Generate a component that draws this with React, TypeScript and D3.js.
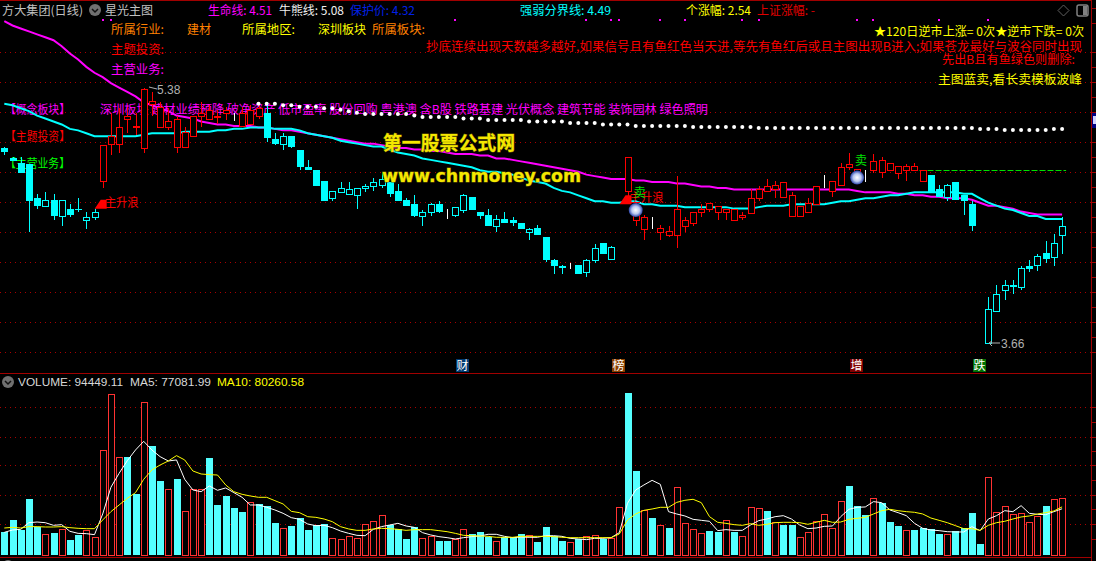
import React, { useEffect, useRef } from 'react';
import * as d3 from 'd3';

// candle prices
const highs = [
  4.99, 4.92, 4.92, 4.87, 4.67, 4.68, 4.67, 4.63, 4.60, 4.64,
  4.55, 4.57, 5.00, 5.22, 5.25, 5.26, 5.22, 5.39, 5.36, 5.29,
  5.25, 5.20, 5.12, 5.20, 5.29, 5.27, 5.24, 5.26, 5.22, 5.26,
  5.27, 5.29, 5.29, 5.08, 5.08, 5.06, 4.97, 4.90, 4.83, 4.76,
  4.69, 4.75, 4.75, 4.71, 4.74, 4.78, 4.82, 4.75, 4.74, 4.64,
  4.66, 4.56, 4.61, 4.62, 4.57, 4.58, 4.67, 4.65, 4.55, 4.57,
  4.53, 4.55, 4.51, 4.47, 4.44, 4.46, 4.38, 4.23, 4.19, 4.20,
  4.19, 4.23, 4.33, 4.34, 4.32, 4.75, 4.92, 4.61, 4.53, 4.51,
  4.46, 4.45, 4.79, 4.51, 4.55, 4.60, 4.61, 4.59, 4.57, 4.57,
  4.55, 4.70, 4.72, 4.77, 4.76, 4.75, 4.68, 4.59, 4.64, 4.72,
  4.80, 4.76, 4.88, 4.95, 4.84, 4.83, 4.94, 4.92, 4.88, 4.86,
  4.87, 4.88, 4.83, 4.80, 4.73, 4.74, 4.75, 4.66, 4.62, 4.01,
  3.97, 4.05, 4.09, 4.09, 4.18, 4.22, 4.26, 4.35, 4.40, 4.51,
];
const bodyHighs = [
  4.98, 4.91, 4.88, 4.87, 4.64, 4.63, 4.63, 4.63, 4.57, 4.57,
  4.51, 4.55, 5.00, 5.06, 5.12, 5.20, 5.13, 5.38, 5.30, 5.26,
  5.16, 5.18, 5.09, 5.20, 5.22, 5.24, 5.20, 5.24, 5.20, 5.22,
  5.24, 5.25, 5.22, 5.04, 5.06, 5.06, 4.97, 4.85, 4.83, 4.76,
  4.69, 4.71, 4.70, 4.71, 4.72, 4.75, 4.77, 4.75, 4.69, 4.63,
  4.60, 4.55, 4.60, 4.60, 4.53, 4.58, 4.66, 4.65, 4.55, 4.53,
  4.50, 4.50, 4.49, 4.47, 4.43, 4.44, 4.38, 4.22, 4.18, 4.18,
  4.19, 4.22, 4.30, 4.34, 4.31, 4.75, 4.92, 4.57, 4.51, 4.47,
  4.44, 4.42, 4.57, 4.49, 4.55, 4.57, 4.61, 4.59, 4.57, 4.57,
  4.53, 4.64, 4.70, 4.72, 4.73, 4.75, 4.66, 4.59, 4.61, 4.72,
  4.71, 4.76, 4.85, 4.87, 4.84, 4.80, 4.89, 4.90, 4.88, 4.86,
  4.86, 4.86, 4.83, 4.80, 4.70, 4.73, 4.75, 4.66, 4.60, 4.01,
  3.89, 3.99, 4.05, 4.05, 4.17, 4.18, 4.25, 4.27, 4.34, 4.45,
];
const bodyLows = [
  4.95, 4.89, 4.81, 4.62, 4.59, 4.59, 4.52, 4.52, 4.53, 4.56,
  4.49, 4.51, 4.76, 5.01, 5.01, 5.18, 5.12, 4.98, 5.28, 5.12,
  5.12, 4.99, 4.99, 5.06, 5.20, 5.18, 5.19, 5.22, 5.20, 5.13,
  5.14, 5.20, 5.05, 5.01, 5.01, 4.99, 4.85, 4.83, 4.72, 4.62,
  4.64, 4.68, 4.67, 4.66, 4.71, 4.72, 4.73, 4.67, 4.62, 4.59,
  4.52, 4.52, 4.55, 4.55, 4.53, 4.53, 4.56, 4.56, 4.52, 4.45,
  4.45, 4.47, 4.47, 4.43, 4.41, 4.39, 4.22, 4.18, 4.17, 4.18,
  4.13, 4.14, 4.22, 4.26, 4.23, 4.75, 4.69, 4.49, 4.43, 4.47,
  4.41, 4.39, 4.39, 4.45, 4.47, 4.55, 4.57, 4.55, 4.55, 4.49,
  4.51, 4.54, 4.64, 4.69, 4.70, 4.65, 4.52, 4.52, 4.55, 4.60,
  4.71, 4.69, 4.73, 4.85, 4.81, 4.80, 4.83, 4.82, 4.83, 4.81,
  4.83, 4.83, 4.76, 4.68, 4.65, 4.65, 4.63, 4.62, 4.45, 4.01,
  3.66, 3.88, 4.02, 4.04, 4.04, 4.16, 4.19, 4.23, 4.24, 4.39,
];
const lows = [
  4.93, 4.89, 4.81, 4.41, 4.57, 4.59, 4.49, 4.45, 4.51, 4.55,
  4.43, 4.49, 4.71, 4.93, 4.95, 5.08, 5.07, 4.95, 5.20, 5.12,
  5.10, 4.95, 4.99, 5.06, 5.12, 5.17, 5.14, 5.17, 5.16, 5.13,
  5.14, 5.18, 5.02, 5.00, 4.97, 4.98, 4.83, 4.83, 4.72, 4.62,
  4.62, 4.68, 4.67, 4.57, 4.68, 4.69, 4.71, 4.65, 4.62, 4.59,
  4.51, 4.45, 4.52, 4.54, 4.50, 4.51, 4.54, 4.56, 4.50, 4.45,
  4.41, 4.47, 4.45, 4.43, 4.36, 4.39, 4.21, 4.13, 4.13, 4.16,
  4.13, 4.11, 4.20, 4.26, 4.23, 4.75, 4.62, 4.45, 4.36, 4.43,
  4.36, 4.38, 4.30, 4.41, 4.45, 4.51, 4.55, 4.49, 4.49, 4.49,
  4.49, 4.54, 4.62, 4.69, 4.64, 4.65, 4.52, 4.51, 4.55, 4.60,
  4.71, 4.65, 4.72, 4.83, 4.78, 4.75, 4.81, 4.78, 4.83, 4.77,
  4.76, 4.83, 4.76, 4.68, 4.65, 4.62, 4.63, 4.53, 4.42, 4.01,
  3.66, 3.88, 3.95, 3.99, 4.02, 4.14, 4.15, 4.20, 4.18, 4.26,
];
// c = cyan filled, h = cyan hollow, r = red hollow, w = white doji
const candleKinds =
  'ccccchchcc' + 'hhrrrrrrrr' + 'rrrrrrrrwr' + 'rrcchccccc' + 'hhhhhhhccc' +
  'chhcwhhccc' + 'hccchccccw' + 'chhchwrrrw' + 'rrrrrrrrrr' + 'rrrrrrrrrr' +
  'wrrrrwrrrr' + 'rrrcchcccw' + 'hhhchchchh';

const lifeLine = [
  5.84, 5.81, 5.79, 5.77, 5.75, 5.73, 5.71, 5.67, 5.62, 5.58,
  5.53, 5.49, 5.46, 5.42, 5.39, 5.36, 5.33, 5.29, 5.27, 5.25,
  5.23, 5.20, 5.19, 5.18, 5.16, 5.15, 5.14, 5.14, 5.13, 5.13,
  5.13, 5.12, 5.12, 5.11, 5.10, 5.10, 5.09, 5.08, 5.07, 5.06,
  5.05, 5.04, 5.03, 5.02, 5.01, 5.01, 5.00, 4.99, 4.98, 4.98,
  4.97, 4.97, 4.96, 4.96, 4.95, 4.94, 4.94, 4.94, 4.93, 4.93,
  4.91, 4.91, 4.90, 4.89, 4.88, 4.87, 4.86, 4.85, 4.84, 4.83,
  4.82, 4.80, 4.79, 4.78, 4.77, 4.77, 4.77, 4.76, 4.76, 4.75,
  4.75, 4.75, 4.74, 4.74, 4.73, 4.72, 4.72, 4.71, 4.71, 4.70,
  4.70, 4.70, 4.70, 4.70, 4.70, 4.70, 4.70, 4.70, 4.70, 4.70,
  4.70, 4.70, 4.70, 4.70, 4.69, 4.68, 4.68, 4.68, 4.68, 4.67,
  4.67, 4.66, 4.66, 4.65, 4.65, 4.64, 4.64, 4.64, 4.63, 4.61,
  4.59, 4.59, 4.58, 4.57, 4.55, 4.54, 4.53, 4.53, 4.53, 4.53,
];
const strengthLine = [
  5.28, 5.27, 5.25, 5.23, 5.20, 5.18, 5.16, 5.14, 5.11, 5.10,
  5.08, 5.06, 5.06, 5.06, 5.06, 5.06, 5.06, 5.07, 5.08, 5.08,
  5.08, 5.08, 5.09, 5.09, 5.09, 5.09, 5.10, 5.10, 5.11, 5.11,
  5.12, 5.12, 5.12, 5.11, 5.11, 5.11, 5.10, 5.08, 5.07, 5.06,
  5.05, 5.03, 5.02, 5.01, 5.00, 4.99, 4.99, 4.97, 4.95, 4.94,
  4.93, 4.91, 4.90, 4.89, 4.88, 4.87, 4.86, 4.85, 4.83, 4.82,
  4.82, 4.81, 4.80, 4.78, 4.76, 4.75, 4.74, 4.71, 4.69, 4.68,
  4.66, 4.64, 4.62, 4.62, 4.61, 4.61, 4.62, 4.62, 4.60, 4.60,
  4.59, 4.59, 4.59, 4.58, 4.58, 4.58, 4.58, 4.58, 4.58, 4.57,
  4.57, 4.57, 4.58, 4.59, 4.59, 4.59, 4.60, 4.60, 4.60, 4.60,
  4.60, 4.61, 4.62, 4.62, 4.63, 4.64, 4.64, 4.65, 4.66, 4.66,
  4.67, 4.68, 4.68, 4.68, 4.68, 4.68, 4.68, 4.67, 4.67, 4.64,
  4.61, 4.59, 4.57, 4.56, 4.54, 4.52, 4.52, 4.50, 4.50, 4.50,
];
// white dots start at bar 31
const bullBearStart = 31;
const bullBearDots = [
  5.28, 5.28, 5.28, 5.27, 5.27, 5.26, 5.26, 5.26, 5.25,
  5.25, 5.24, 5.23, 5.22, 5.21, 5.21, 5.21, 5.21, 5.21, 5.21,
  5.20, 5.19, 5.19, 5.19, 5.19, 5.19, 5.18, 5.18, 5.18, 5.17,
  5.17, 5.17, 5.17, 5.17, 5.16, 5.16, 5.16, 5.16, 5.16, 5.15,
  5.15, 5.15, 5.15, 5.14, 5.14, 5.14, 5.14, 5.13, 5.13, 5.13,
  5.13, 5.13, 5.13, 5.13, 5.123, 5.123, 5.123, 5.123, 5.123, 5.123, 5.123, 5.123,
  5.116, 5.116, 5.116, 5.116, 5.116, 5.116, 5.116, 5.116, 5.116, 5.116,
  5.116, 5.116, 5.116, 5.116, 5.116, 5.116, 5.116, 5.116, 5.116, 5.116,
  5.116, 5.116, 5.116, 5.116, 5.116, 5.116, 5.116,
  5.109, 5.109, 5.109, 5.102, 5.102, 5.102, 5.102, 5.102, 5.102, 5.109, 5.109,
];

const volumes = [
  37800, 58400, 42300, 93400, 46100, 34500, 36700, 42800, 25000, 33400,
  41100, 29500, 174500, 267900, 162900, 163500, 101700, 254600, 181800, 123400,
  109500, 126800, 72800, 109500, 109500, 161800, 83400, 98400, 78400, 71700,
  87800, 84500, 81700, 53400, 44500, 48400, 61700, 41700, 49500, 51200,
  27800, 26100, 31100, 27800, 51200, 56200, 66200, 50000, 42800, 26700,
  46100, 27800, 31100, 23400, 23400, 26100, 42800, 35000, 38400, 30000,
  22800, 30000, 30000, 35000, 32800, 21700, 46700, 31700, 23400, 21100,
  26700, 31100, 32800, 26700, 27800, 79500, 270200, 140100, 74500, 61700,
  49500, 45000, 112900, 52800, 42800, 36100, 40000, 38400, 57800, 37800,
  31100, 79500, 77800, 73400, 54500, 49500, 49500, 29500, 37800, 56200,
  67800, 44500, 89500, 115100, 81700, 66700, 94500, 86700, 55000, 48400,
  41100, 41700, 45000, 42800, 35000, 34500, 39500, 44500, 70100, 18300,
  129500, 71200, 81200, 67800, 69500, 54500, 65100, 81700, 92900, 94449,
];
// f = cyan filled, r = red hollow
const volumeKinds =
  'fffffrfrff' + 'rrrrrffrff' + 'rfrrrfffff' + 'rfffrfffff' + 'rrrrrrrfff' +
  'frrffrrfff' + 'rfffrffffr' + 'frrfrrffrf' + 'rfrrrrffrf' + 'rrrfrffrrr' +
  'rrrfffrfff' + 'rffffrffff' + 'rrrrrrrfrr';
const ma5 = [
  37800, 41700, 42800, 53900, 55000, 53900, 49500, 50600, 39500, 36100,
  35600, 33900, 68400, 112900, 136200, 157300, 175100, 189600, 175100, 164000,
  156800, 158500, 126200, 108400, 105600, 115100, 107900, 111800, 104000, 96200,
  83400, 83400, 79500, 75100, 69500, 62300, 59500, 51700, 48900, 49500,
  45600, 40000, 36100, 32800, 32200, 42800, 47300, 50000, 52800, 48400,
  46100, 37300, 33400, 30600, 28900, 26700, 28900, 30600, 31700, 34500,
  34500, 31100, 28900, 30000, 29500, 29500, 32200, 32200, 31100, 27800,
  26700, 25600, 27800, 27800, 28900, 37300, 86200, 108400, 116800, 124500,
  117900, 72300, 68400, 65100, 59500, 57800, 56200, 40600, 42300, 41100,
  41100, 50000, 57300, 60000, 63900, 65600, 60000, 50000, 43900, 45000,
  47800, 48400, 63900, 76200, 79500, 80100, 89000, 87300, 75100, 70600,
  65600, 52800, 44500, 41700, 40600, 38900, 38400, 38400, 47300, 40600,
  60000, 65600, 73900, 72300, 82300, 69500, 67800, 67300, 72300, 77082,
];
const ma10 = [
  45000, 46100, 45000, 47300, 47300, 46700, 46700, 47300, 45600, 44500,
  43900, 43900, 58400, 72300, 83400, 94500, 104000, 126200, 141800, 150100,
  156800, 165700, 158500, 140100, 135100, 134000, 133400, 116800, 105600, 101200,
  98400, 96200, 96200, 90600, 85100, 72800, 70600, 63900, 62800, 60000,
  55600, 47300, 43400, 41100, 41100, 43400, 44500, 43900, 42800, 41100,
  42300, 42300, 42300, 40600, 38900, 36100, 32800, 32200, 31700, 31100,
  29500, 29500, 29500, 31100, 31100, 31100, 31100, 30600, 29500, 28900,
  28900, 28900, 28900, 28900, 28900, 35000, 58400, 68400, 74500, 76700,
  79500, 79500, 87800, 91200, 92900, 87300, 63900, 54500, 52800, 50600,
  49500, 52300, 49500, 51200, 53900, 54500, 54500, 53900, 51200, 54500,
  57800, 54500, 55000, 59500, 61200, 62800, 68400, 73900, 76200, 73900,
  72300, 71200, 68400, 61700, 57800, 53900, 48900, 43900, 43900, 41100,
  49500, 53900, 56200, 60000, 63400, 65100, 68400, 70600, 73400, 80261,
];

const priceGridValues = [5.628, 5.425, 5.222, 5.019, 4.816, 4.613, 4.41, 4.207, 4.004, 3.801, 3.598];
const volumeGridValues = [51200, 100800, 150000, 197400, 247400];
const signalDotBars = [12, 13, 55, 71, 74, 75, 80, 83, 90, 92, 104, 106, 114, 120];
const eventBars = [
  { bar: 56, label: '财', fill: '#003a70' },
  { bar: 75, label: '榜', fill: '#8a4000' },
  { bar: 104, label: '增', fill: '#800000' },
  { bar: 119, label: '跌', fill: '#007000' },
];
const riseMarkBars = [12, 76];
const riseMarkPrices = [4.63, 4.66];
const sellMarkBars = [77, 104];
const sellMarkPrices = [4.66, 4.88];
const faceMarkBars = [77, 104];
const faceMarkPrices = [4.56, 4.78];
const targetLineBars = [111, 129];
const targetLinePrice = 4.83;
const conceptTags = '深圳板块 建材业绩预降 破净资产 低市盈率 股份回购 粤港澳 含B股 铁路基建 光伏概念 建筑节能 装饰园林 绿色照明';

const CN = '"Noto Sans CJK SC", "Liberation Sans", sans-serif';
const gridRed = '#a80000';
const lineRed = '#a00000';

function App() {
  const ref = useRef<SVGSVGElement | null>(null);

  useEffect(() => {
    document.body.style.margin = '0';
    document.body.style.background = '#000';
    const svg = d3.select(ref.current);
    svg.selectAll('*').remove();

    const x = d3.scaleLinear().domain([0, 129]).range([4.3, 1062.1]);
    const y = d3.scaleLinear().domain([3.66, 5.38]).range([343, 89]);
    const v = d3.scaleLinear().domain([0, 300000]).range([555, 375.1]);
    const cx = (i: number) => Math.round(x(i));
    const bars = d3.range(highs.length);

    const label = (g: any, px: number, py: number, text: string, color: string, opts: any = {}) =>
      g.append('text')
        .attr('x', px)
        .attr('y', py)
        .attr('fill', color)
        .attr('font-family', opts.family || CN)
        .attr('font-size', opts.size || 12)
        .attr('font-weight', opts.weight || 'normal')
        .attr('text-anchor', opts.anchor || 'start')
        .attr('textLength', opts.width || null)
        .attr('lengthAdjust', opts.width ? 'spacingAndGlyphs' : null)
        .text(text);

    const defs = svg.append('defs');
    const grad = defs.append('radialGradient').attr('id', 'face');
    grad.append('stop').attr('offset', '0%').attr('stop-color', '#ffffff');
    grad.append('stop').attr('offset', '55%').attr('stop-color', '#b8c8f0');
    grad.append('stop').attr('offset', '100%').attr('stop-color', '#2840a8');

    svg.append('rect').attr('width', 1096).attr('height', 561).attr('fill', '#000');

    // frame and grid
    const grid = svg.append('g').attr('shape-rendering', 'crispEdges');
    grid.selectAll('.price-grid')
      .data(priceGridValues)
      .join('line')
      .attr('x1', 0)
      .attr('x2', 1091)
      .attr('y1', d => Math.round(y(d)) + 0.5)
      .attr('y2', d => Math.round(y(d)) + 0.5)
      .attr('stroke', gridRed)
      .attr('stroke-dasharray', '1 4');
    grid.selectAll('.vol-grid')
      .data(volumeGridValues)
      .join('line')
      .attr('x1', 0)
      .attr('x2', 1091)
      .attr('y1', d => Math.round(v(d)) + 0.5)
      .attr('y2', d => Math.round(v(d)) + 0.5)
      .attr('stroke', gridRed)
      .attr('stroke-dasharray', '1 4');
    [0.5, 373.5, 557.5].forEach(py => {
      grid.append('line').attr('x1', 0).attr('x2', 1092).attr('y1', py).attr('y2', py).attr('stroke', lineRed);
    });
    grid.append('line').attr('x1', 1091.5).attr('x2', 1091.5).attr('y1', 0).attr('y2', 561).attr('stroke', lineRed);

    const priceTicks = d3.range(0, priceGridValues.length - 1)
      .map(i => (priceGridValues[i] + priceGridValues[i + 1]) / 2)
      .concat(priceGridValues, [5.83, 5.93]);
    grid.selectAll('.price-tick')
      .data(priceTicks)
      .join('line')
      .attr('x1', 1092)
      .attr('x2', 1096)
      .attr('y1', d => Math.round(y(d)) + 0.5)
      .attr('y2', d => Math.round(y(d)) + 0.5)
      .attr('stroke', lineRed);
    const volTicks = volumeGridValues.concat([26000, 76000, 125000, 174000, 222000]);
    grid.selectAll('.vol-tick')
      .data(volTicks)
      .join('line')
      .attr('x1', 1092)
      .attr('x2', 1096)
      .attr('y1', d => Math.round(v(d)) + 0.5)
      .attr('y2', d => Math.round(v(d)) + 0.5)
      .attr('stroke', lineRed);
    svg.append('rect').attr('x', 1092).attr('y', 113).attr('width', 4).attr('height', 15).attr('fill', '#000080');
    svg.append('rect').attr('x', 1093).attr('y', 116).attr('width', 3).attr('height', 8).attr('fill', '#d0d0ff');

    // header line
    const head = svg.append('g');
    label(head, 2, 15, '方大集团(日线)', '#c0c0c0', { width: 81 });
    head.append('circle').attr('cx', 95).attr('cy', 10).attr('r', 6).attr('fill', '#707070');
    head.append('path').attr('d', 'M92 9 L95 12 L98 9').attr('fill', 'none').attr('stroke', '#111').attr('stroke-width', 1.5);
    label(head, 105, 15, '星光主图', '#c0c0c0');
    label(head, 208, 15, '生命线: 4.51', '#ff00ff', { width: 64 });
    label(head, 279, 15, '牛熊线: 5.08', '#f0f0f0', { width: 65 });
    label(head, 350, 15, '保护价: 4.32', '#0020e8', { width: 65 });
    label(head, 520, 15, '强弱分界线: 4.49', '#00ffff', { width: 91 });
    label(head, 686, 15, '个涨幅: 2.54', '#ffff00', { width: 65 });
    label(head, 757, 15, '上证涨幅: -', '#e00000', { width: 58 });
    head.append('path').attr('d', 'M1063.5 5 L1069 10.5 L1063.5 16 L1058 10.5 Z').attr('fill', 'none').attr('stroke', '#606060');
    head.append('rect').attr('x', 1077).attr('y', 5).attr('width', 11).attr('height', 11).attr('rx', 2).attr('fill', '#000').attr('stroke', '#808080').attr('stroke-width', 1.5);
    head.append('rect').attr('x', 1083).attr('y', 6).attr('width', 4).attr('height', 9).attr('fill', '#808080');

    svg.append('g')
      .selectAll('rect')
      .data(signalDotBars)
      .join('rect')
      .attr('x', d => cx(d) - 1)
      .attr('y', 19)
      .attr('width', 2)
      .attr('height', 2)
      .attr('fill', '#ff00ff');

    // info text under the candles
    const info = svg.append('g');
    label(info, 111, 34, '所属行业:', '#ff8000', { width: 53 });
    label(info, 187, 34, '建材', '#ff8000');
    label(info, 242, 34, '所属地区:', '#ffff00', { width: 53 });
    label(info, 318, 34, '深圳板块', '#ffff00');
    label(info, 372, 34, '所属板块:', '#ff8000', { width: 53 });
    label(info, 111, 54, '主题投资:', '#ff0000', { width: 53 });
    label(info, 111, 74, '主营业务:', '#ff00ff', { width: 53 });
    label(info, 874, 36, '★120日逆市上涨= 0次★逆市下跌= 0次', '#ffff00', { width: 210 });
    label(info, 426, 51, '抄底连续出现天数越多越好,如果信号且有鱼红色当天进,等先有鱼红后或且主图出现B进入;如果苍龙最好与波谷同时出现', '#ff0000', { width: 656 });
    label(info, 942, 64, '先出B且有鱼绿色则删除:', '#ff0000', { width: 133 });
    label(info, 938, 84, '主图蓝卖,看长卖模板波峰', '#ffff00', { width: 144 });
    label(info, 5, 114, '【概念板块】', '#ff00ff', { width: 65 });
    label(info, 100, 114, conceptTags, '#ff00ff', { width: 608 });
    label(info, 5, 141, '【主题投资】', '#ff0000', { width: 65 });
    label(info, 5, 168, '【主营业务】', '#00ff00', { width: 65 });

    // moving lines
    const priceLine = d3.line<number>().x((d, i) => x(i)).y(d => y(d));
    svg.append('path').attr('d', priceLine(lifeLine)).attr('fill', 'none').attr('stroke', '#ff00ff').attr('stroke-width', 2);
    svg.append('path').attr('d', priceLine(strengthLine)).attr('fill', 'none').attr('stroke', '#00ffff').attr('stroke-width', 2);

    svg.append('line')
      .attr('x1', x(targetLineBars[0]) - 3)
      .attr('x2', x(targetLineBars[1]) + 4)
      .attr('y1', Math.round(y(targetLinePrice)) + 0.5)
      .attr('y2', Math.round(y(targetLinePrice)) + 0.5)
      .attr('stroke', '#00e000')
      .attr('stroke-dasharray', '6 2');

    // candles
    const candleColor = (k: string) => (k === 'r' ? '#ff0000' : k === 'w' ? '#ffffff' : '#00ffff');
    const candles = svg.append('g').attr('shape-rendering', 'crispEdges');
    candles.selectAll('.wick')
      .data(bars)
      .join('line')
      .attr('x1', d => cx(d) + 0.5)
      .attr('x2', d => cx(d) + 0.5)
      .attr('y1', d => y(highs[d]))
      .attr('y2', d => y(lows[d]))
      .attr('stroke', d => candleColor(candleKinds[d]));
    candles.selectAll('.body')
      .data(bars)
      .join('rect')
      .attr('x', d => (candleKinds[d] === 'c' ? cx(d) - 3 : cx(d) - 2.5))
      .attr('y', d => {
        const top = Math.round(y(bodyHighs[d]))
        return candleKinds[d] === 'c' ? top : top + 0.5
      })
      .attr('width', d => (candleKinds[d] === 'c' ? 7 : 6))
      .attr('height', d => Math.max(candleKinds[d] === 'w' ? 0 : 1, Math.round(y(bodyLows[d])) - Math.round(y(bodyHighs[d]))))
      .attr('fill', d => (candleKinds[d] === 'c' ? '#00ffff' : '#000'))
      .attr('stroke', d => (candleKinds[d] === 'c' ? 'none' : candleColor(candleKinds[d])));

    // white dots of the bull/bear line
    svg.append('g')
      .selectAll('circle')
      .data(bullBearDots)
      .join('circle')
      .attr('cx', (d, i) => x(i + bullBearStart))
      .attr('cy', d => y(d))
      .attr('r', 2)
      .attr('fill', '#ffffff');

    // signal marks
    const marks = svg.append('g');
    riseMarkBars.forEach((b, i) => {
      const tipX = x(b) - 2;
      const tipY = y(riseMarkPrices[i]);
      marks.append('path')
        .attr('d', `M${tipX - 6} ${tipY + 9} L${tipX} ${tipY} L${tipX + 6} ${tipY} L${tipX + 6} ${tipY + 9} Z`)
        .attr('fill', '#ff0000');
      label(marks, tipX + 4, tipY + 7, '主升浪', '#ff0000', { width: 34 });
    });
    faceMarkBars.forEach((b, i) => {
      marks.append('circle').attr('cx', x(b)).attr('cy', y(faceMarkPrices[i])).attr('r', 7).attr('fill', 'url(#face)');
    });
    sellMarkBars.forEach((b, i) => {
      label(marks, x(b) + 4, y(sellMarkPrices[i]) + 2, '卖', '#00e000', { anchor: 'middle' });
    });

    // high / low notes
    const hi = 5.38;
    const lo = 3.66;
    marks.append('path').attr('d', `M${cx(17) + 5} ${y(hi) - 2} L${cx(17) + 13} ${y(hi)}`).attr('stroke', '#b0b0b0').attr('fill', 'none');
    label(marks, 157, y(hi) + 5, hi.toFixed(2), '#b0b0b0', { family: 'Liberation Sans', size: 12 });
    marks.append('path').attr('d', `M${cx(120) + 1} ${y(lo)} L${cx(120) + 12} ${y(lo)} M${cx(120) + 1} ${y(lo)} L${cx(120) + 4} ${y(lo) - 2} M${cx(120) + 1} ${y(lo)} L${cx(120) + 4} ${y(lo) + 3}`).attr('stroke', '#b0b0b0').attr('fill', 'none');
    label(marks, 1001, y(lo) + 5, lo.toFixed(2), '#b0b0b0', { family: 'Liberation Sans', size: 12 });

    // event tags under the candles
    eventBars.forEach(e => {
      marks.append('rect').attr('x', cx(e.bar) - 7).attr('y', 359).attr('width', 13).attr('height', 13).attr('fill', e.fill);
      label(marks, cx(e.bar) - 0.5, 370, e.label, '#ffffff', { anchor: 'middle' });
    });

    // site watermark
    const stamp = svg.append('g');
    const wm = (px: number, py: number, text: string, opts: any) =>
      label(stamp, px, py, text, '#f4e800', { weight: 'bold', ...opts })
        .attr('stroke', '#6a5a00')
        .attr('stroke-width', 1)
        .attr('paint-order', 'stroke');
    wm(383, 150, '第一股票公式网', { size: 19, width: 132 });
    wm(382, 182, 'www.chnmoney.com', { size: 18, width: 199, family: 'DejaVu Sans' });

    // volume panel
    const vol = svg.append('g').attr('shape-rendering', 'crispEdges');
    vol.selectAll('rect')
      .data(bars)
      .join('rect')
      .attr('x', d => (volumeKinds[d] === 'f' ? cx(d) - 3 : cx(d) - 2.5))
      .attr('y', d => (volumeKinds[d] === 'f' ? Math.round(v(volumes[d])) : Math.round(v(volumes[d])) + 0.5))
      .attr('width', d => (volumeKinds[d] === 'f' ? 7 : 6))
      .attr('height', d => 555 - Math.round(v(volumes[d])))
      .attr('fill', d => (volumeKinds[d] === 'f' ? '#54ffff' : '#000'))
      .attr('stroke', d => (volumeKinds[d] === 'f' ? 'none' : '#ff3232'));

    const volLine = d3.line<number>().x((d, i) => x(i)).y(d => v(d));
    svg.append('path').attr('d', volLine(ma5)).attr('fill', 'none').attr('stroke', '#ffffff').attr('stroke-width', 1);
    svg.append('path').attr('d', volLine(ma10)).attr('fill', 'none').attr('stroke', '#ffff00').attr('stroke-width', 1);

    const volHead = svg.append('g');
    volHead.append('circle').attr('cx', 8).attr('cy', 382).attr('r', 6).attr('fill', '#707070');
    volHead.append('path').attr('d', 'M5 381 L8 384 L11 381').attr('fill', 'none').attr('stroke', '#111').attr('stroke-width', 1.5);
    label(volHead, 18, 386, 'VOLUME: 94449.11', '#d8d8d8', { family: 'Liberation Sans', size: 11, width: 105 });
    label(volHead, 130, 386, 'MA5: 77081.99', '#d8d8d8', { family: 'Liberation Sans', size: 11, width: 81 });
    label(volHead, 217, 386, 'MA10: 80260.58', '#ffff00', { family: 'Liberation Sans', size: 11, width: 87 });
    volHead.append('circle').attr('cx', 8).attr('cy', 566).attr('r', 6).attr('fill', '#707070');
  }, []);

  return <svg ref={ref} width={1096} height={561} style={{ position: 'absolute', left: 0, top: 0, display: 'block' }} />;
}

export default App;
